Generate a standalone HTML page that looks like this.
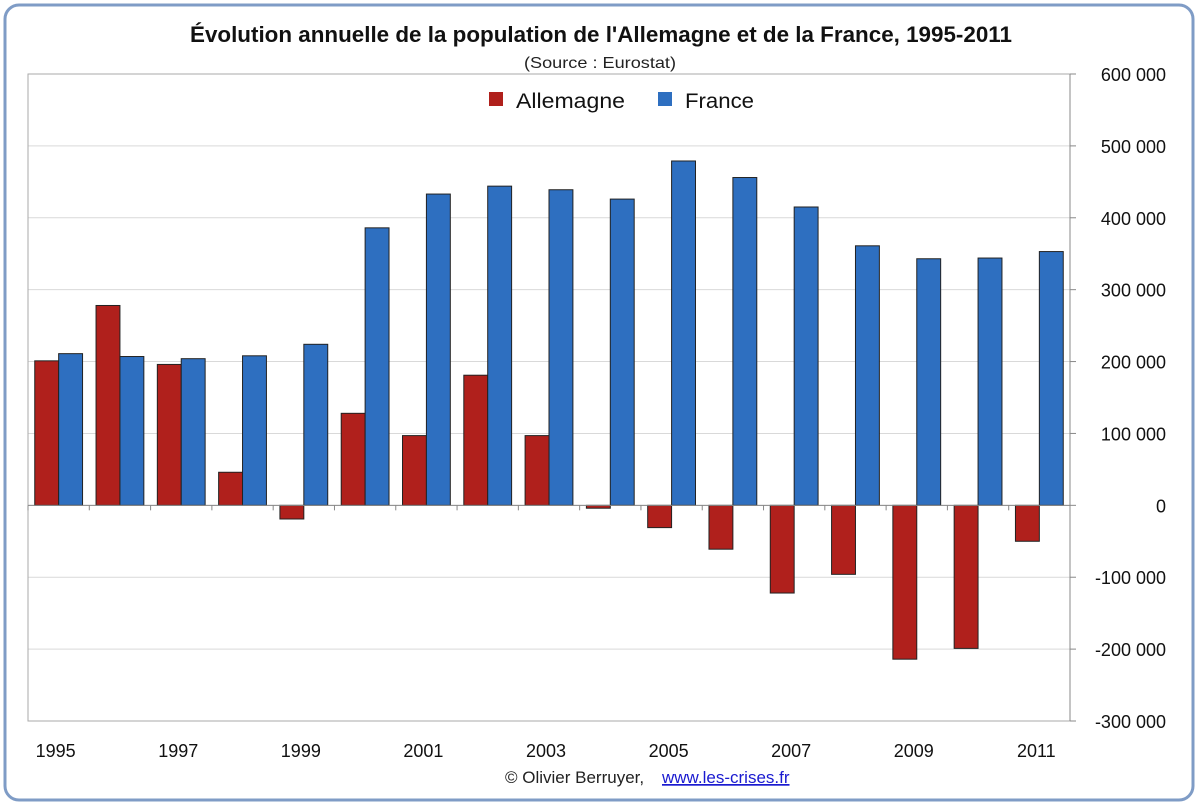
<!DOCTYPE html>
<html><head><meta charset="utf-8"><style>
body{margin:0;background:#fff;width:1200px;height:807px;overflow:hidden;font-family:"Liberation Sans",sans-serif}
</style></head><body>
<svg id="chart" width="1200" height="807">
<rect x="5" y="5" width="1188" height="795" rx="14" fill="#fff" stroke="#7f9cc6" stroke-width="3"/>
<text x="190" y="42" textLength="822" lengthAdjust="spacingAndGlyphs" font-size="22" font-weight="bold" fill="#111">Évolution annuelle de la population  de l'Allemagne et de la France, 1995-2011</text>
<text x="524" y="68" textLength="152" lengthAdjust="spacingAndGlyphs" font-size="16" fill="#222">(Source : Eurostat)</text>
<g id="grid"></g>
<g id="bars"></g>
<g id="axes"></g>
<g>
<rect x="489" y="92" width="14" height="14" fill="#b0201c"/>
<text x="516" y="108" textLength="109" lengthAdjust="spacingAndGlyphs" font-size="21" fill="#111">Allemagne</text>
<rect x="658" y="92" width="14" height="14" fill="#2e6fc0"/>
<text x="685" y="108" textLength="69" lengthAdjust="spacingAndGlyphs" font-size="21" fill="#111">France</text>
</g>
<text x="505" y="783" font-size="17" fill="#222">© Olivier Berruyer,</text>
<text x="662" y="783" font-size="17" fill="#1a1ad0" text-decoration="underline">www.les-crises.fr</text>
</svg>
<script>
const years=[1995,1996,1997,1998,1999,2000,2001,2002,2003,2004,2005,2006,2007,2008,2009,2010,2011];
const allemagne=[201000,278000,196000,46000,-19000,128000,97000,181000,97000,-4000,-31000,-61000,-122000,-96000,-214000,-199000,-50000];
const france=[211000,207000,204000,208000,224000,386000,433000,444000,439000,426000,479000,456000,415000,361000,343000,344000,353000];
const yTicks=[600000,500000,400000,300000,200000,100000,0,-100000,-200000,-300000];
const yTickLabels=["600 000","500 000","400 000","300 000","200 000","100 000","0","-100 000","-200 000","-300 000"];
const xLabelYears=[1995,1997,1999,2001,2003,2005,2007,2009,2011];
const L=28,R=1070,T=74,B=721,yMax=600000,yMin=-300000;
const ns="http://www.w3.org/2000/svg";
const Y=v=>T+(yMax-v)/(yMax-yMin)*(B-T);
const gw=(R-L)/years.length;
const X=i=>L+i*gw;
function mk(tag,attrs,parent){const e=document.createElementNS(ns,tag);for(const k in attrs)e.setAttribute(k,attrs[k]);document.getElementById(parent).appendChild(e);return e;}
yTicks.forEach((t,i)=>{
 const g=mk('line',{x1:L,x2:R,y1:Y(t),y2:Y(t),stroke:'#d9d9d9','stroke-width':1},'grid');
 
 
 const tk=mk('line',{x1:R,x2:R+6,y1:Y(t),y2:Y(t),stroke:'#888'},'axes');
 
 
 const tx=mk('text',{x:R+96,y:Y(t)+7,'text-anchor':'end','font-size':18,fill:'#111'},'axes');
 tx.textContent=yTickLabels[i];
 
 
});
const bw=gw*0.39;
years.forEach((yr,i)=>{
 const c=X(i)+gw/2;
 [[allemagne[i],'#b0201c',c-bw,'bar-allemagne-'+yr],[france[i],'#2e6fc0',c,'bar-france-'+yr]].forEach(([v,col,x,n])=>{
  const r=mk('rect',{x:x,y:Math.min(Y(v),Y(0)),width:bw,height:Math.abs(Y(v)-Y(0)),fill:col,stroke:'#222','stroke-width':1},'bars');
  
  
 });
 const tk=mk('line',{x1:X(i),x2:X(i),y1:Y(0),y2:Y(0)+5,stroke:'#888'},'axes');
 
 
});
xLabelYears.forEach(yr=>{
 const i=years.indexOf(yr);
 const tx=mk('text',{x:X(i)+gw/2-3,y:757,'text-anchor':'middle','font-size':18,fill:'#111'},'axes');
 tx.textContent=yr;
 
 
});
const z=mk('line',{x1:L,x2:R,y1:Y(0),y2:Y(0),stroke:'#888'},'axes');


const ra=mk('line',{x1:R,x2:R,y1:T,y2:B,stroke:'#888'},'axes');


const pb=mk('rect',{x:L,y:T,width:R-L,height:B-T,fill:'none',stroke:'#aaa'},'grid');


</script>
</body></html>
